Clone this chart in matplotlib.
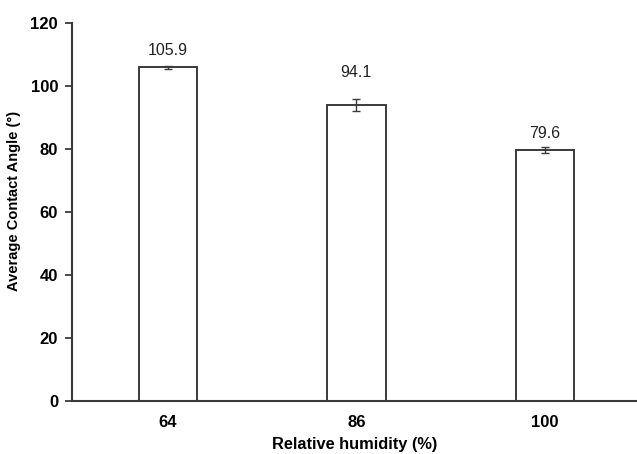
import numpy as np
import matplotlib.pyplot as plt

plt.rcParams['font.family'] = ['Liberation Sans', 'DejaVu Sans']

# contact angle vs relative humidity
humidity = ['64', '86', '100']
angle = [105.9, 94.1, 79.6]
angle_err = [0.4, 1.9, 0.9]
label_pos = [111.4, 104.4, 84.8]   # where the value text sits

fig = plt.figure(figsize=(6.37, 4.54), dpi=100)
ax = fig.add_axes([0.113, 0.1167, 0.887, 0.8326])

x = np.arange(len(humidity))
ax.bar(x, angle, width=0.31, color='white', edgecolor='#3a3a3a', linewidth=1.4,
       yerr=angle_err, error_kw=dict(ecolor='#3a3a3a', elinewidth=1.0, capsize=3, capthick=1.0))

for xi, v, yp in zip(x, angle, label_pos):
    ax.text(xi, yp, f'{v:.1f}', ha='center', va='center', fontsize=11.5, color='#222222')

ax.set_xlim(-0.51, 2.49)
ax.set_ylim(0, 120)
ax.set_yticks(np.arange(0, 121, 20))
ax.set_xticks(x)
ax.set_xticklabels(humidity)
for lab in ax.get_xticklabels() + ax.get_yticklabels():
    lab.set_fontweight('bold')
    lab.set_fontsize(12)

ax.tick_params(axis='x', length=0, pad=10)
ax.tick_params(axis='y', length=5, width=1.3, color='#3a3a3a', pad=5)

ax.spines['top'].set_visible(False)
ax.spines['right'].set_visible(False)
for s in ('left', 'bottom'):
    ax.spines[s].set_color('#3a3a3a')
    ax.spines[s].set_linewidth(1.5)

ax.set_xlabel('Relative humidity (%)', fontweight='bold', fontsize=11.8)
ax.xaxis.set_label_coords(0.5, -0.095)
ax.set_ylabel('Average Contact Angle (°)', fontweight='bold', fontsize=10.5)
ax.yaxis.set_label_coords(-0.09, 0.53)

fig.savefig('out.png', dpi=100)
